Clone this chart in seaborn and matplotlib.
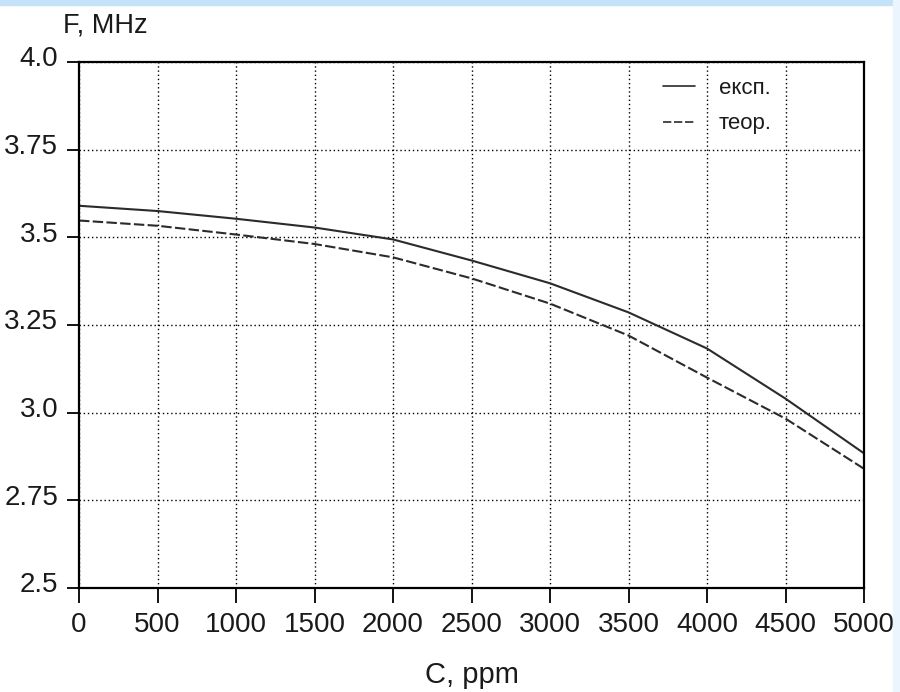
import numpy as np
import pandas as pd
import matplotlib
matplotlib.use("Agg")
import matplotlib.pyplot as plt
import seaborn as sns
from matplotlib.patches import Rectangle
from matplotlib.transforms import ScaledTranslation

# values
conc = [0, 500, 1000, 1500, 2000, 2500, 3000, 3500, 4000, 4500, 5000]
f_exp = [3.59, 3.575, 3.553, 3.528, 3.494, 3.434, 3.369, 3.286, 3.183, 3.04, 2.884]
f_theor = [3.548, 3.533, 3.508, 3.481, 3.443, 3.383, 3.311, 3.22, 3.1, 2.983, 2.84]
yticks = [2.5, 2.75, 3.0, 3.25, 3.5, 3.75, 4.0]
ytick_labels = ["2.5", "2.75", "3.0", "3.25", "3.5", "3.75", "4.0"]

sns.set_style("white")
plt.rcParams['font.family'] = ['Liberation Sans', 'DejaVu Sans']

df = pd.DataFrame({
    "C": conc * 2,
    "F": f_exp + f_theor,
    "kind": ["експ."] * len(conc) + ["теор."] * len(conc),
})

W, H = 900, 692
fig = plt.figure(figsize=(9, 6.92), dpi=100)
ax = fig.add_axes([79 / W, 1 - 588 / H, (864 - 79) / W, (588 - 62) / H])

sns.lineplot(data=df, x="C", y="F", style="kind", color="#2b2b2b",
             dashes={"експ.": "", "теор.": (5, 1.6)}, linewidth=1.5, ax=ax)

ax.set_xlim(0, 5000)
ax.set_ylim(2.5, 4.0)
ax.set_xticks(conc)
ax.set_xticklabels([str(c) for c in conc], fontsize=20)
ax.set_yticks(yticks)
ax.set_yticklabels(ytick_labels, fontsize=20)
ax.tick_params(axis='x', direction='out', length=11, width=1.3, color='black',
               bottom=True, pad=6, labelcolor='#1a1a1a')
ax.tick_params(axis='y', direction='out', length=9, width=1.3, color='black',
               left=True, pad=6, labelcolor='#1a1a1a')
# y labels in the reference sit a little above their ticks
for lab in ax.get_yticklabels():
    lab.set_transform(lab.get_transform() + ScaledTranslation(0, 4 / 72, fig.dpi_scale_trans))

ax.grid(True, color='black', linestyle=(0, (1, 2)), linewidth=1)
for s in ax.spines.values():
    s.set_color('black')
    s.set_linewidth(1.6)

ax.set_xlabel("C, ppm", fontsize=21, labelpad=17, color='#1a1a1a')
ax.set_ylabel("")
fig.text(63 / W, 1 - 25 / H, "F, MHz", fontsize=19.5, va='center', ha='left', color='#1a1a1a')

leg = ax.legend(frameon=False, fontsize=16, handlelength=1.45, handletextpad=1.05,
                loc='upper left', bbox_to_anchor=((663 - 79) / 785, (588 - 78) / 526),
                borderpad=0, borderaxespad=0, labelspacing=0.65)
for t in leg.get_texts():
    t.set_color('#1a1a1a')
for h in leg.get_lines():
    h.set_linewidth(1.2)

# light blue frame around the slide
fig.patches.append(Rectangle((0, 1 - 5 / H), 1, 5 / H, transform=fig.transFigure,
                             color='#c4e2f8', zorder=0))
fig.patches.append(Rectangle((893 / W, 0), 7 / W, 1, transform=fig.transFigure,
                             color='#eaf5fd', zorder=0))

fig.savefig("out.png", dpi=100)
